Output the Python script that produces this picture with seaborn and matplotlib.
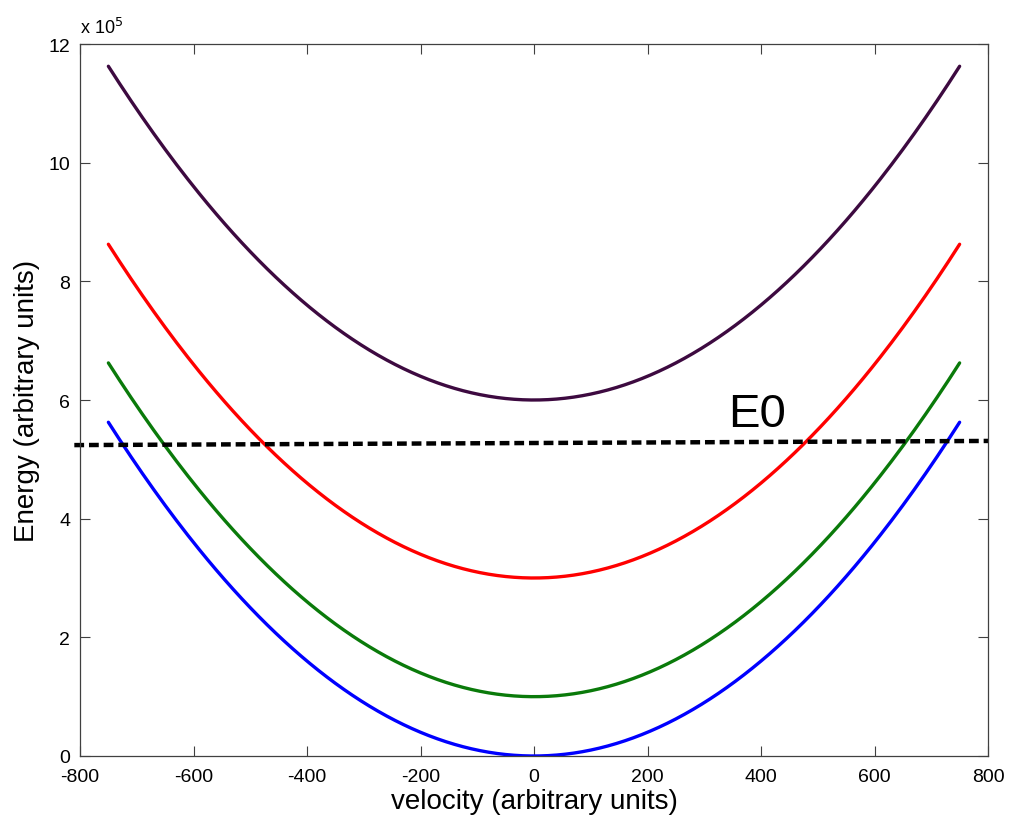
import numpy as np
import pandas as pd
import matplotlib
matplotlib.use("Agg")
import matplotlib.pyplot as plt
import seaborn as sns

# Energy levels: E = offset + v^2 (arbitrary units)
level_names = ["level 3", "level 2", "level 1", "level 0"]
level_offsets = [6.0e5, 3.0e5, 1.0e5, 0.0]
level_colors = ["#3d0a40", "#ff0000", "#0a7a0a", "#0000ff"]
v_min, v_max = -750, 750

# Reference energy E0 (nearly flat line across the axes)
e0_velocity = [-810, 800]
e0_energy = [5.24e5, 5.31e5]

x_ticks = [-800, -600, -400, -200, 0, 200, 400, 600, 800]
y_ticks = [0, 2e5, 4e5, 6e5, 8e5, 10e5, 12e5]
y_ticklabels = ["0", "2", "4", "6", "8", "10", "12"]

velocity = np.linspace(v_min, v_max, 301)
frames = []
for name, off in zip(level_names, level_offsets):
    frames.append(pd.DataFrame({"velocity": velocity,
                                "energy": off + velocity ** 2,
                                "level": name}))
df = pd.concat(frames, ignore_index=True)

sns.set_style("white")
plt.rcParams["font.family"] = ["Liberation Sans", "DejaVu Sans"]
plt.rcParams["text.color"] = "black"
plt.rcParams["axes.labelcolor"] = "black"

fig = plt.figure(figsize=(10.09, 8.29), dpi=100)
ax = fig.add_axes([80 / 1009, 1 - 757 / 829, 908 / 1009, 712 / 829])

sns.lineplot(data=df, x="velocity", y="energy", hue="level",
             hue_order=level_names, palette=dict(zip(level_names, level_colors)),
             linewidth=2.4, legend=False, ax=ax, sort=False)

ax.plot(e0_velocity, e0_energy, color="black", linewidth=3.2,
        linestyle=(0, (2.2, 1.1)), clip_on=False)
ax.text(393, 5.76e5, "E0", fontsize=34, ha="center", va="center", color="black")

ax.set_xlim(-800, 800)
ax.set_ylim(0, 12e5)
ax.set_xticks(x_ticks)
ax.set_xticklabels([str(t) for t in x_ticks])
ax.set_yticks(y_ticks)
ax.set_yticklabels(y_ticklabels)
ax.tick_params(direction="in", length=7, width=0.8, colors="#404040",
               labelcolor="black", labelsize=14, top=True, right=True,
               bottom=True, left=True)
ax.tick_params(axis="x", pad=9)
ax.tick_params(axis="y", pad=7)
for sp in ax.spines.values():
    sp.set_visible(True)
    sp.set_color("#404040")
    sp.set_linewidth(0.9)

ax.set_xlabel("velocity (arbitrary units)", fontsize=20, labelpad=2, color="black")
ax.set_ylabel("Energy (arbitrary units)", fontsize=20, labelpad=6, color="black")
fig.text(80 / 1009, 1 - 28 / 829, r"x 10$^{5}$", fontsize=13, ha="left",
         va="center", color="black")

fig.savefig("out.png", dpi=100)
